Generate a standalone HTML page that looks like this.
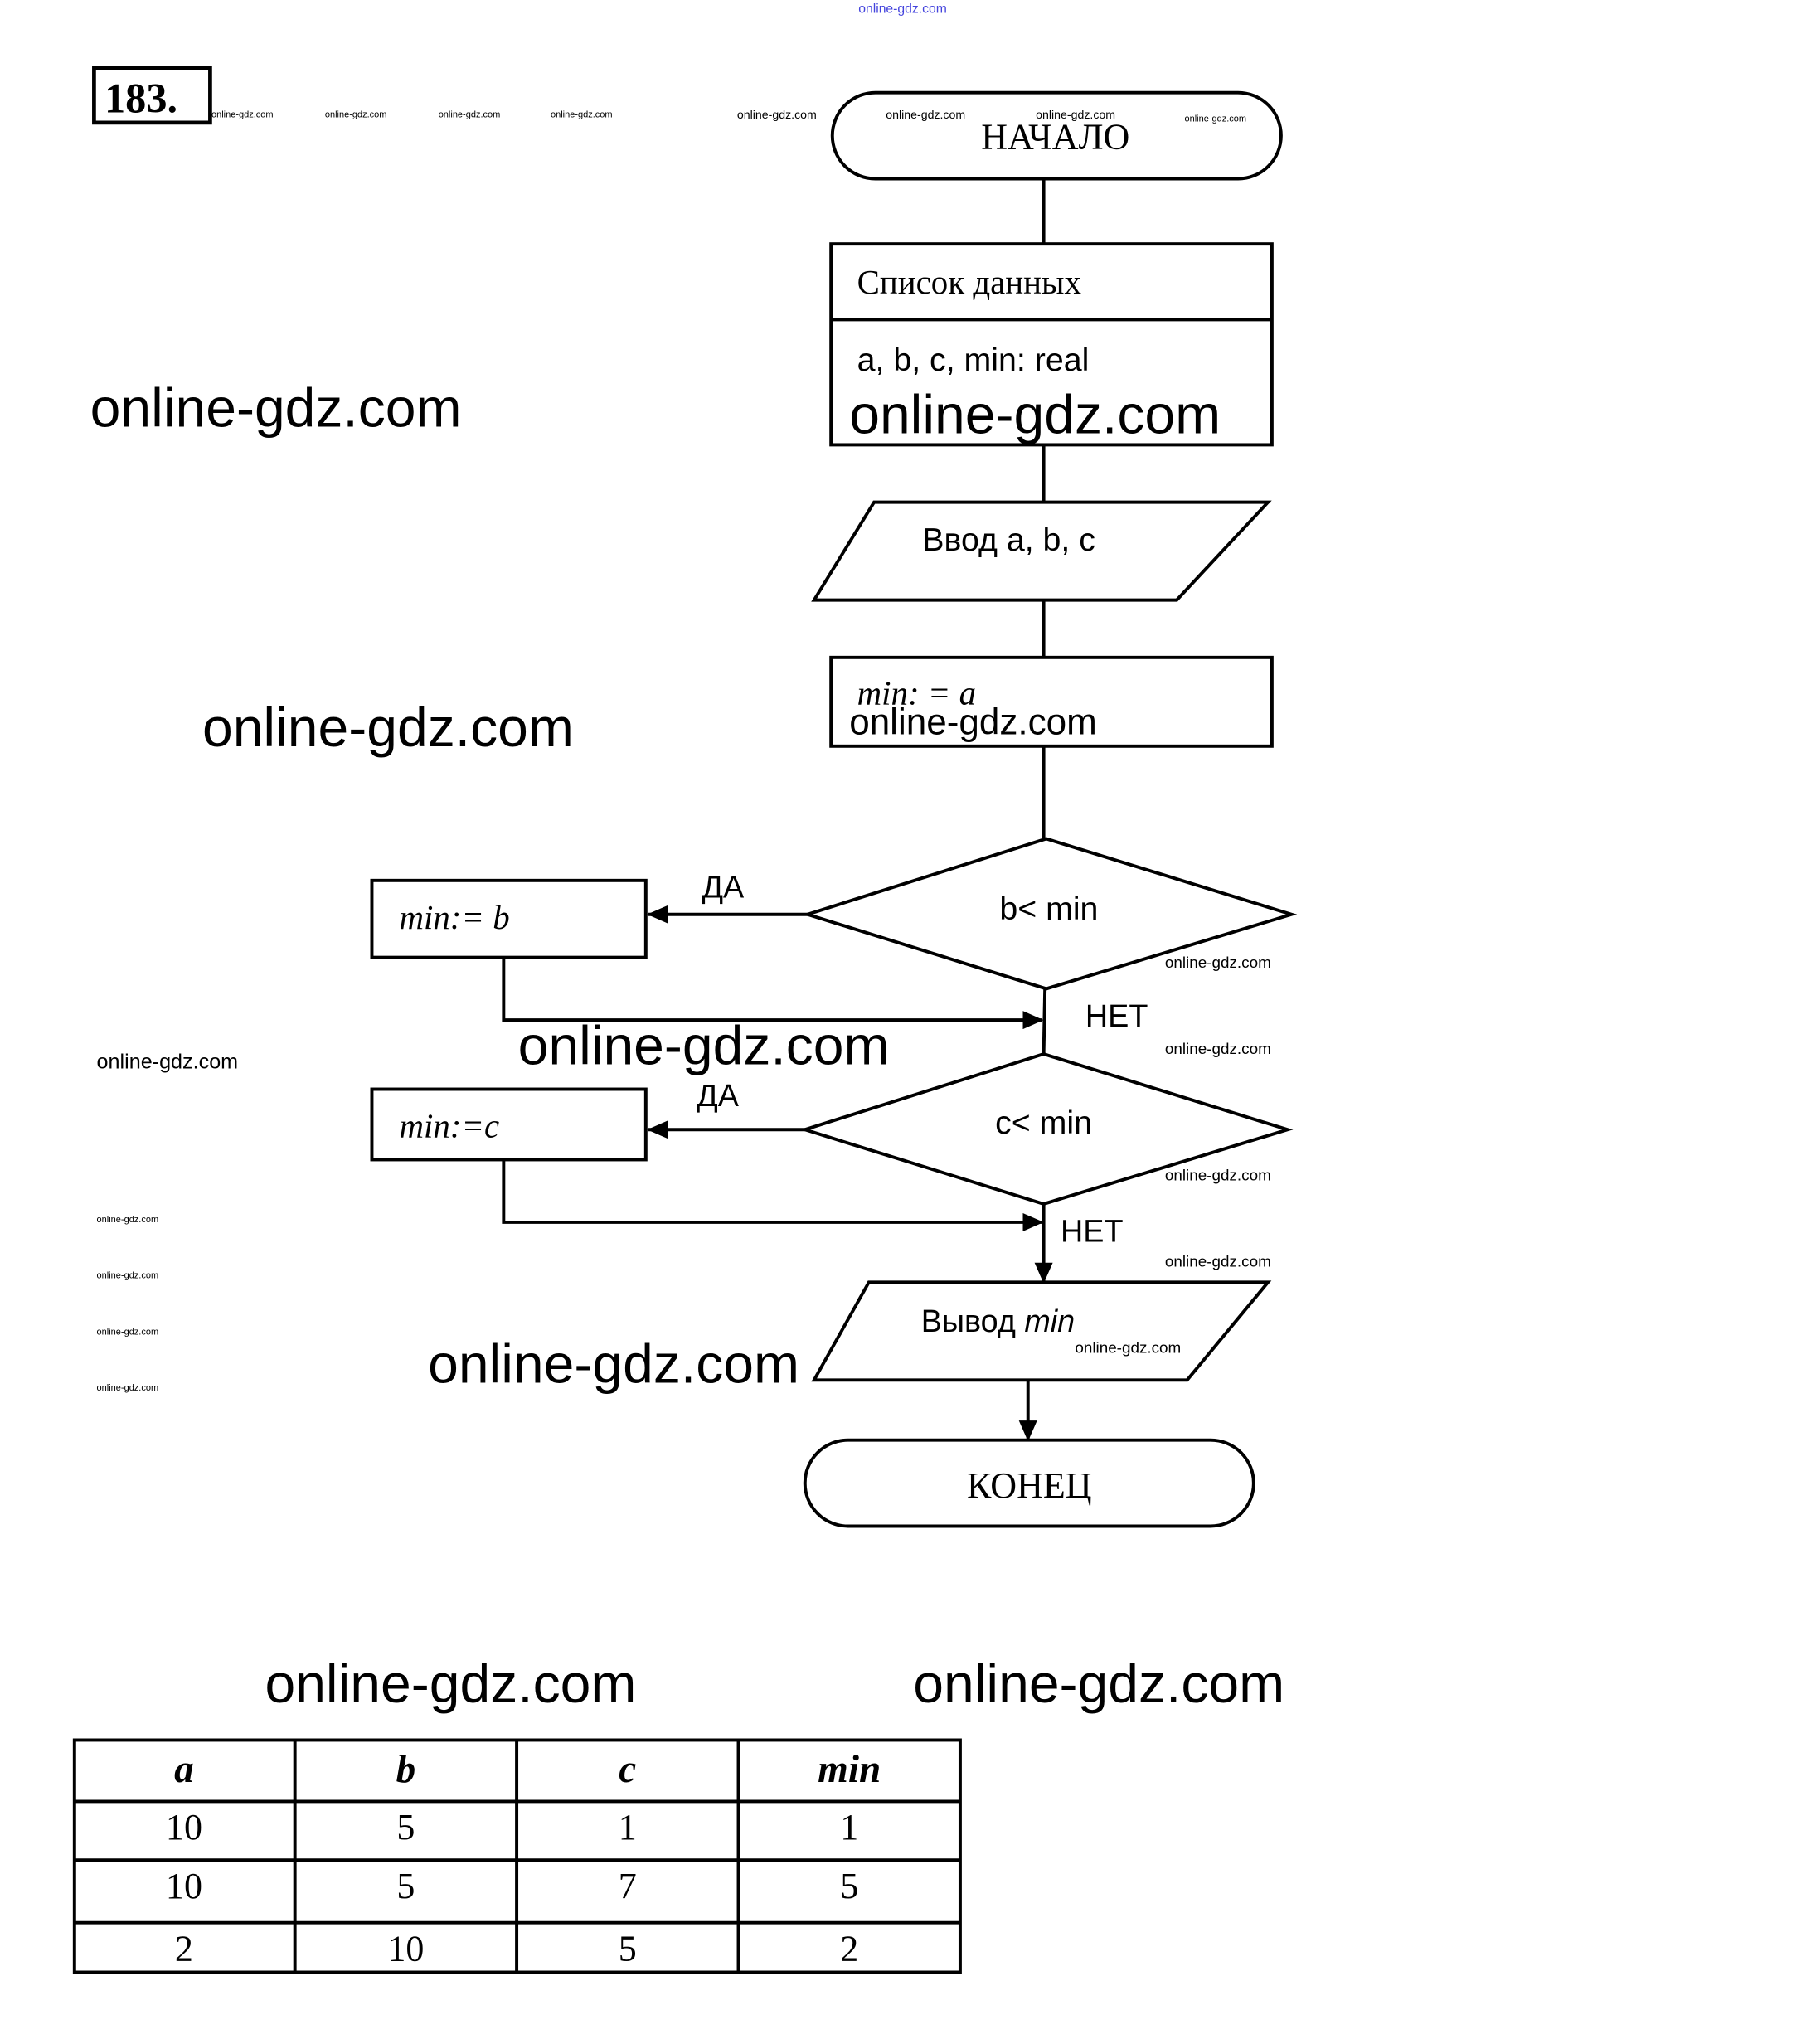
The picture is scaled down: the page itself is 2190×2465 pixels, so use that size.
<!DOCTYPE html>
<html><head><meta charset="utf-8"><style>html,body{margin:0;padding:0;background:#fff}svg{display:block}</style></head>
<body>
<svg width="2190" height="2465" viewBox="0 0 1392 1567" xmlns="http://www.w3.org/2000/svg">
<defs>
<marker id="b" markerWidth="16" markerHeight="14" refX="15" refY="7" orient="auto" markerUnits="userSpaceOnUse"><path d="M0,0 L16,7 L0,14 z" fill="#000"/></marker></defs>
<g fill="none" stroke="#000" stroke-width="2.5">
<rect x="72" y="52" width="89" height="42" stroke-width="3"/>
<rect x="638" y="71" width="344" height="66" rx="33"/>
<line x1="800" y1="137" x2="800" y2="187"/>
<rect x="637" y="187" width="338" height="154"/>
<line x1="637" y1="245" x2="975" y2="245"/>
<line x1="800" y1="341" x2="800" y2="385"/>
<polygon points="670,385 972,385 902,460 624,460"/>
<line x1="800" y1="460" x2="800" y2="504"/>
<rect x="637" y="504" width="338" height="68"/>
<line x1="800" y1="572" x2="800" y2="643"/>
<polygon points="802,643 990,701 802,758 619,701"/>
<line x1="619" y1="701" x2="497" y2="701" marker-end="url(#b)"/>
<rect x="285" y="675" width="210" height="59"/>
<polyline points="386,734 386,782 799,782" marker-end="url(#b)"/>
<line x1="801" y1="758" x2="800" y2="808"/>
<polygon points="800,808 987,866 800,923 617,866"/>
<line x1="617" y1="866" x2="497" y2="866" marker-end="url(#b)"/>
<rect x="285" y="835" width="210" height="54"/>
<polyline points="386,889 386,937 799,937" marker-end="url(#b)"/>
<line x1="800" y1="923" x2="800" y2="983" marker-end="url(#b)"/>
<polygon points="666,983 972,983 910,1058 624,1058"/>
<line x1="788" y1="1058" x2="788" y2="1104" marker-end="url(#b)"/>
<rect x="617" y="1104" width="344" height="66" rx="33"/>
<rect x="57" y="1334" width="679" height="178"/>
<line x1="57" y1="1381" x2="736" y2="1381"/><line x1="57" y1="1426" x2="736" y2="1426"/><line x1="57" y1="1474" x2="736" y2="1474"/>
<line x1="226" y1="1334" x2="226" y2="1512"/><line x1="396" y1="1334" x2="396" y2="1512"/><line x1="566" y1="1334" x2="566" y2="1512"/>
</g>
<g font-family="Liberation Serif, serif" fill="#000">
<text x="80" y="86" font-size="32" font-weight="bold">183.</text>
<text x="809" y="114" font-size="28" text-anchor="middle">НАЧАЛО</text>
<text x="657" y="225" font-size="26">Список данных</text>
<text x="657" y="540" font-size="26" font-style="italic">min: = a</text>
<text x="306" y="712" font-size="26" font-style="italic">min:= b</text>
<text x="306" y="872" font-size="26" font-style="italic">min:=c</text>
<text x="789" y="1148" font-size="28" text-anchor="middle">КОНЕЦ</text>
<g font-size="30" text-anchor="middle" font-style="italic" font-weight="bold">
<text x="141" y="1366">a</text><text x="311" y="1366">b</text><text x="481" y="1366">c</text><text x="651" y="1366">min</text></g>
<g font-size="28" text-anchor="middle">
<text x="141" y="1410">10</text><text x="311" y="1410">5</text><text x="481" y="1410">1</text><text x="651" y="1410">1</text>
<text x="141" y="1455">10</text><text x="311" y="1455">5</text><text x="481" y="1455">7</text><text x="651" y="1455">5</text>
<text x="141" y="1503">2</text><text x="311" y="1503">10</text><text x="481" y="1503">5</text><text x="651" y="1503">2</text></g>
</g>
<g font-family="Liberation Sans, DejaVu Sans, sans-serif" fill="#000">
<text x="657" y="284" font-size="25">a, b, c, min: real</text>
<text x="707" y="422" font-size="25">Ввод a, b, c</text>
<text x="804" y="705" font-size="25" text-anchor="middle">b&lt; min</text>
<text x="800" y="869" font-size="25" text-anchor="middle">c&lt; min</text>
<text x="538" y="688" font-size="24">ДА</text>
<text x="534" y="848" font-size="24">ДА</text>
<text x="832" y="787" font-size="24">НЕТ</text>
<text x="813" y="952" font-size="24">НЕТ</text>
<text x="706" y="1021" font-size="24">Вывод <tspan font-style="italic">min</tspan></text>
<g font-size="42">
<text x="69" y="327">online-gdz.com</text>
<text x="651" y="332">online-gdz.com</text>
<text x="155" y="572">online-gdz.com</text>
<text x="397" y="816">online-gdz.com</text>
<text x="328" y="1060">online-gdz.com</text>
<text x="203" y="1305">online-gdz.com</text>
<text x="700" y="1305">online-gdz.com</text></g>
<text x="651" y="563" font-size="28">online-gdz.com</text>
<text x="74" y="819" font-size="16">online-gdz.com</text>
<g font-size="12">
<text x="893" y="742">online-gdz.com</text><text x="893" y="808">online-gdz.com</text>
<text x="893" y="905">online-gdz.com</text><text x="893" y="971">online-gdz.com</text>
<text x="824" y="1037">online-gdz.com</text></g>
<g font-size="9">
<text x="565" y="91">online-gdz.com</text><text x="679" y="91">online-gdz.com</text><text x="794" y="91">online-gdz.com</text>
</g>
<g font-size="7">
<text x="162" y="90">online-gdz.com</text><text x="249" y="90">online-gdz.com</text><text x="336" y="90">online-gdz.com</text><text x="422" y="90">online-gdz.com</text><text x="908" y="93">online-gdz.com</text>
<text x="74" y="937">online-gdz.com</text><text x="74" y="980">online-gdz.com</text><text x="74" y="1023">online-gdz.com</text><text x="74" y="1066">online-gdz.com</text></g>
<text x="658" y="10" font-size="10" fill="#4444dd">online-gdz.com</text>
</g>
</svg>
</body></html>
